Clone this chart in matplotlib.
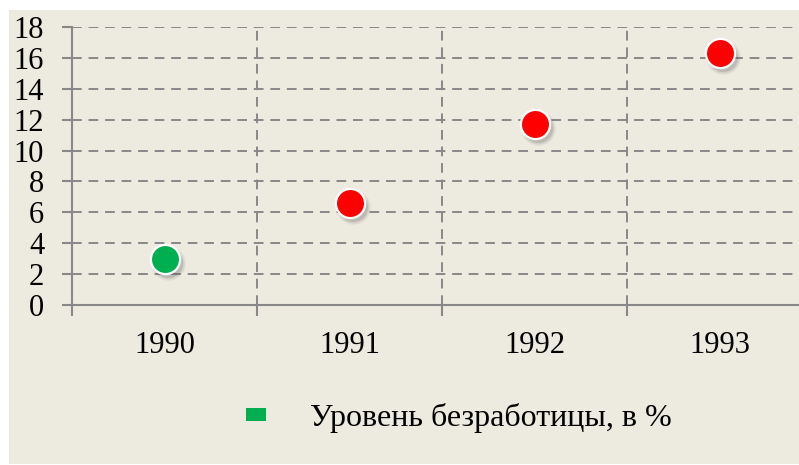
import matplotlib.pyplot as plt
from matplotlib.patches import Rectangle, Patch
from matplotlib.ticker import FixedLocator
import matplotlib.transforms as mtrans

years = ['1990', '1991', '1992', '1993']
unemployment = [3.0, 6.6, 11.7, 16.3]
colors = ['#00B050', '#FF0000', '#FF0000', '#FF0000']
legend_label = 'Уровень безработицы, в %'

plt.rcParams['font.family'] = ['Liberation Serif', 'DejaVu Serif']

W, H = 799, 465
fig = plt.figure(figsize=(W / 100, H / 100), dpi=100)
fig.patch.set_facecolor('white')
bg = '#EDEBE0'
fig.patches.append(Rectangle((9 / W, 1 / H), 790 / W, 454 / H, transform=fig.transFigure,
                             facecolor=bg, edgecolor='none', zorder=-10))

ax = fig.add_axes([72 / W, (H - 305) / H, 740 / W, 278 / H])
ax.set_facecolor('none')

x = list(range(len(years)))

# soft shadow under markers
for sz, a in [(25, 0.07), (23, 0.11), (21, 0.17)]:
    off = mtrans.offset_copy(ax.transData, fig=fig, x=3, y=-4, units='dots')
    ax.plot(x, unemployment, 'o', ms=sz, color='#555555', alpha=a, mec='none',
            transform=off, zorder=3, clip_on=False)

for xi, yi, c in zip(x, unemployment, colors):
    ax.plot(xi, yi, 'o', ms=21, color=c, mec='white', mew=1.6, zorder=4, clip_on=False)

ax.set_xlim(-0.5, 3.5)
ax.set_ylim(0, 18)
ax.set_yticks(range(0, 19, 2))
ax.set_xticks(x)
ax.set_xticklabels(years)
ax.xaxis.set_minor_locator(FixedLocator([-0.5, 0.5, 1.5, 2.5, 3.5]))

gc = '#888888'
ax.grid(axis='y', which='major', color=gc, linestyle=(0, (5, 3.5)), linewidth=1.4)
ax.grid(axis='x', which='minor', color=gc, linestyle=(0, (5, 3.5)), linewidth=1.4)
ax.set_axisbelow(True)

for s in ['top', 'right']:
    ax.spines[s].set_visible(False)
for s in ['left', 'bottom']:
    ax.spines[s].set_color(gc)
    ax.spines[s].set_linewidth(1.5)

ax.tick_params(axis='y', length=7, width=1.5, color=gc, labelsize=22, pad=13)
ax.tick_params(axis='x', which='major', length=0, labelsize=22, pad=19)
ax.tick_params(axis='x', which='minor', length=8, width=1.5, color=gc)

handle = Patch(facecolor='#00B050', edgecolor='none')
leg = fig.legend([handle], [legend_label], loc='center', bbox_to_anchor=(459 / W, (H - 418) / H),
                 frameon=False, fontsize=23, handlelength=0.62, handleheight=0.28,
                 handletextpad=1.4)

fig.savefig('out.png', dpi=100)
